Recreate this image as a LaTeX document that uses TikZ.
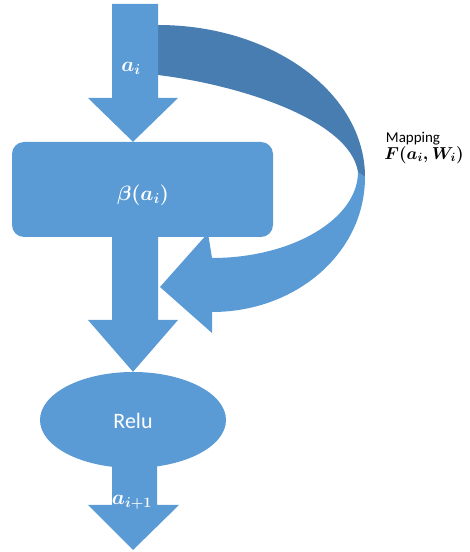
\documentclass[tikz,border=0pt]{standalone}
\usepackage{fontspec}
\usepackage{amsmath}
\usetikzlibrary{shapes.geometric}
\newfontfamily\calib{Carlito}
\definecolor{flowblue}{RGB}{91,155,213}
\definecolor{flowdark}{RGB}{72,125,178}
\tikzset{
  blockfill/.style={fill=flowblue, draw=none},
  backfill/.style={fill=flowdark, draw=none},
  whitelabel/.style={text=white, inner sep=0pt},
}
\begin{document}
\begin{tikzpicture}[x=1pt,y=1pt]
\useasboundingbox (0,0) rectangle (470,552);

% main blocks
\node[blockfill, rounded corners=12pt, minimum width=261pt, minimum height=95pt,
      inner sep=0pt] (beta) at (142.5,362.5) {};
\node[blockfill, ellipse, minimum width=186pt, minimum height=96pt,
      inner sep=0pt] (relu) at (133,132) {};

% curved skip arrow: front (lighter) face with head
\fill[blockfill] (365,375)
  .. controls (365,299) and (296,240) .. (212,240)
  -- (212,219) -- (160,265) -- (208,319) -- (212,294)
  .. controls (292,294) and (358,333) .. (358,380) -- cycle;
% curved skip arrow: back (darker) face
\fill[backfill] (158,527)
  arc[start angle=90, end angle=0, x radius=207, y radius=152]
  -- (358,380)
  .. controls (350,432) and (240,467) .. (158,477) -- cycle;

% input arrow into beta block
\fill[blockfill] (112,548) -- (158,548) -- (158,454) -- (178,454)
  -- (beta.north -| 133,0) -- (88,454) -- (112,454) -- cycle;
% arrow from beta block to relu
\fill[blockfill] (112,316) -- (158,316) -- (158,232) -- (178,232)
  -- (relu.north) -- (88,232) -- (112,232) -- cycle;
% output arrow
\fill[blockfill] (112,90) -- (157,90) -- (157,47) -- (179,47)
  -- (133,2) -- (88,47) -- (112,47) -- cycle;

% labels
\node[whitelabel, font=\fontsize{20}{22}\selectfont\boldmath] (ai) at (131,484) {$a_i$};
\node[whitelabel, font=\fontsize{21}{24}\selectfont\boldmath] (betalbl) at (143,357) {$\beta(a_i)$};
\node[whitelabel, font=\calib\fontsize{22}{24}\selectfont] (relulbl) at (133,131) {Relu};
\node[whitelabel, font=\fontsize{20}{22}\selectfont\boldmath] (aout) at (132,50) {$a_{i+1}$};
\node[inner sep=0pt, font=\calib\fontsize{15}{17}\selectfont] (map) at (413,413) {Mapping};
\node[inner sep=0pt, font=\fontsize{18}{20}\selectfont\boldmath] (fmap) at (424,397) {$F(a_i,W_i)$};
\end{tikzpicture}
\end{document}
